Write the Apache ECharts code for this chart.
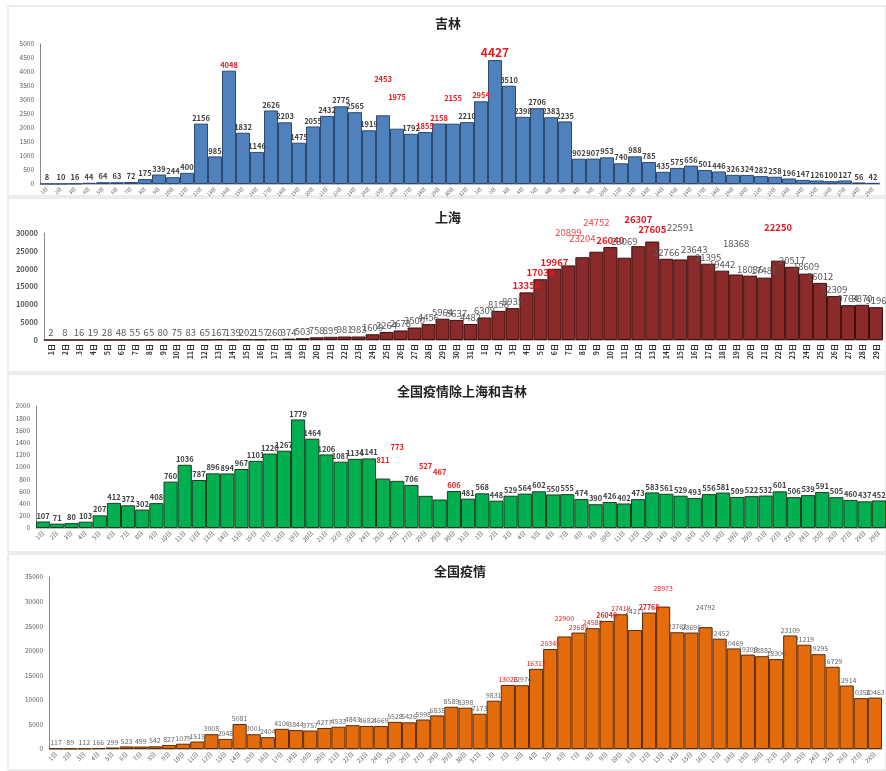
<!DOCTYPE html>
<html><head><meta charset="utf-8">
<script src="https://cdn.jsdelivr.net/npm/echarts@6/dist/echarts.min.js"></script>
<style>html,body{margin:0;padding:0;background:#fff}#c{width:886px;height:771px}</style>
</head><body><div id="c"></div>
<script>
// ---- Data ----
const daysMar = Array.from({length:31},(_, i)=> (i+1)+'日');
const jilinLabels = daysMar.concat(Array.from({length:29},(_, i)=> (i+1)+'日'));
const shanghaiLabels = jilinLabels;
const otherLabels = jilinLabels;
const nationLabels = daysMar.concat(Array.from({length:28},(_, i)=> (i+1)+'日'));

const jilinValues = [8,10,16,44,64,63,72,175,339,244,400,2156,985,4048,1832,1146,2626,2203,1475,2055,2432,2775,2565,1919,2453,1975,1792,1855,2158,2155,2210,2954,4427,3510,2398,2706,2383,2235,902,907,953,740,988,785,435,575,656,501,446,326,324,282,258,196,147,126,100,127,56,42];
const shanghaiValues = [2,8,16,19,28,48,55,65,80,75,83,65,167,139,202,157,260,374,503,758,895,981,983,1609,2264,2678,3500,4456,5964,5637,4482,6309,8158,8935,13350,17038,19967,20899,23204,24752,26040,23069,26307,27605,22766,22591,23643,21395,19442,18368,18036,17486,22250,20517,18609,16012,12309,9764,9870,9196];
const otherValues = [107,71,80,103,207,412,372,302,408,760,1036,787,896,894,967,1101,1220,1267,1779,1464,1206,1087,1134,1141,811,773,706,527,467,606,481,568,448,529,564,602,550,555,474,390,426,402,473,583,561,529,493,556,581,509,522,532,601,506,539,591,505,460,437,452];
const nationValues = [117,89,112,166,299,523,499,542,827,1079,1519,3008,2048,5081,3001,2404,4106,3844,3757,4277,4533,4843,4682,4669,5528,5426,5998,6838,8589,8398,7173,9831,13028,12974,16312,20345,22900,23689,24580,26040,27419,24211,27768,28973,23762,23695,24792,22452,20469,19208,18882,18300,23109,21219,19295,16729,12914,10351,10463];

const titles = ['吉林','上海','全国疫情除上海和吉林','全国疫情'];

// label styling config (indices)
const jilinRed = [13,24,25,27,28,29,31];
const jilinBig = [32];
const shanghaiRed = [34,35,36,40,42,43,52];
const shanghaiLightRed = [37,38,39];
const otherRed = [24,25,27,28,29];
const nationRed = [32,34,35,36,37,38,40,43];
const nationRedBold = [39,42];
// label vertical lifts (px) for labels moved off their bars
const jilinLift = {24:30,25:26,29:20};
const shanghaiLift = {37:26,38:12,39:23,42:20,43:5,45:25,49:24,52:27,41:10};
const otherLift = {24:13,25:28,27:24,28:22};
const nationLift = {36:13,41:13,46:14,43:13};

function build(values, cfg){
  const red = cfg.red || [], lightRed = cfg.lightRed || [], big = cfg.big || [], redBold = cfg.redBold || [], lift = cfg.lift || {};
  return values.map((v,i)=>{
    const it = {value:v};
    let lab = null;
    if (big.includes(i)) lab = {color:'#e8191f', fontSize:12, fontWeight:'bold'};
    else if (redBold.includes(i)) lab = {color:'#e8191f', fontWeight:'bold'};
    else if (red.includes(i)) lab = {color:'#e8191f', fontWeight: cfg.redWeight || 'bold'};
    else if (lightRed.includes(i)) lab = {color:'#ee4444', fontWeight:'normal'};
    if (lift[i] !== undefined) { lab = lab || {}; lab.offset = [0, -lift[i]]; }
    if (lab) it.label = lab;
    return it;
  });
}

const chart = echarts.init(document.getElementById('c'));
const grids = [
  {left:40, width:840, top:44, height:140},
  {left:44, width:839, top:233, height:107},
  {left:36, width:858, top:406, height:122},
  {left:49, width:833, top:577, height:172}
];
const yMax = [5000,30000,2000,35000];
const yInt = [500,5000,200,5000];
const cats = [jilinLabels, shanghaiLabels, otherLabels, nationLabels];
const colors = ['#4f81bd','#8b2a2a','#00b050','#e46c0a'];
const borders = ['#2c4a70','#3a0e0e','#1d3d20','#5a2a05'];
const vals = [
  build(jilinValues, {red:jilinRed, big:jilinBig, lift:jilinLift}),
  build(shanghaiValues, {red:shanghaiRed, lightRed:shanghaiLightRed, lift:shanghaiLift}),
  build(otherValues, {red:otherRed, lift:otherLift}),
  build(nationValues, {red:nationRed, redBold:nationRedBold, redWeight:'normal', lift:nationLift})
];
const labelFont = [
  {fontSize:7.5, color:'#404040', fontWeight:'bold'},
  {fontSize:9.5, color:'#595959', fontWeight:'normal'},
  {fontSize:7.5, color:'#404040', fontWeight:'bold'},
  {fontSize:7, color:'#666', fontWeight:'normal'}
];
const xLab = [
  {rotate:45, fontSize:5, color:'#595959'},
  {rotate:90, fontSize:7, color:'#333', fontWeight:'bold'},
  {rotate:45, fontSize:6, color:'#595959'},
  {rotate:45, fontSize:6, color:'#595959'}
];
const titlePos = [{left:443, top:12},{left:443, top:206},{left:457, top:380},{left:455, top:560}];

const option = {
  animation:false,
  backgroundColor:'#fff',
  textStyle:{fontFamily:'"Noto Sans CJK SC", "DejaVu Sans", sans-serif'},
  title: titles.map((t,i)=>({text:t, left:titlePos[i].left, top:titlePos[i].top, textAlign:'center',
    textStyle:{fontSize:13, fontWeight:'bold', color:'#222', fontFamily:'"Noto Sans CJK SC", sans-serif'}})),
  grid: grids,
  xAxis: cats.map((c,i)=>({type:'category', gridIndex:i, data:c,
    axisLine:{lineStyle:{color:'#bfbfbf'}}, axisTick:{show:false},
    axisLabel:Object.assign({interval:0, margin:4}, xLab[i])})),
  yAxis: yMax.map((m,i)=>({type:'value', gridIndex:i, min:0, max:m, interval:yInt[i],
    splitLine:{show:false}, axisLine:{show:true, lineStyle:{color:'#888'}}, axisTick:{show:false},
    axisLabel:{fontSize: i===1?7.5:6.5, color:'#595959', fontWeight: i===1?'bold':'normal', margin:6,
      formatter:(v)=>String(v)}})),
  series: vals.map((d,i)=>({type:'bar', xAxisIndex:i, yAxisIndex:i, data:d,
    barCategoryGap:'0%', itemStyle:{color:colors[i], borderColor:borders[i], borderWidth:1},
    label:Object.assign({show:true, position:'top', distance:2}, labelFont[i])})),
  graphic:[
    {type:'rect', shape:{x:8,y:6,width:878,height:190}, style:{fill:'none', stroke:'#d9d9d9', lineWidth:1}, silent:true},
    {type:'rect', shape:{x:8,y:198,width:878,height:174}, style:{fill:'none', stroke:'#d9d9d9', lineWidth:1}, silent:true},
    {type:'rect', shape:{x:8,y:374,width:878,height:178}, style:{fill:'none', stroke:'#d9d9d9', lineWidth:1}, silent:true},
    {type:'rect', shape:{x:8,y:554,width:878,height:216}, style:{fill:'none', stroke:'#d9d9d9', lineWidth:1}, silent:true}
  ]
};
chart.setOption(option);
</script></body></html>
